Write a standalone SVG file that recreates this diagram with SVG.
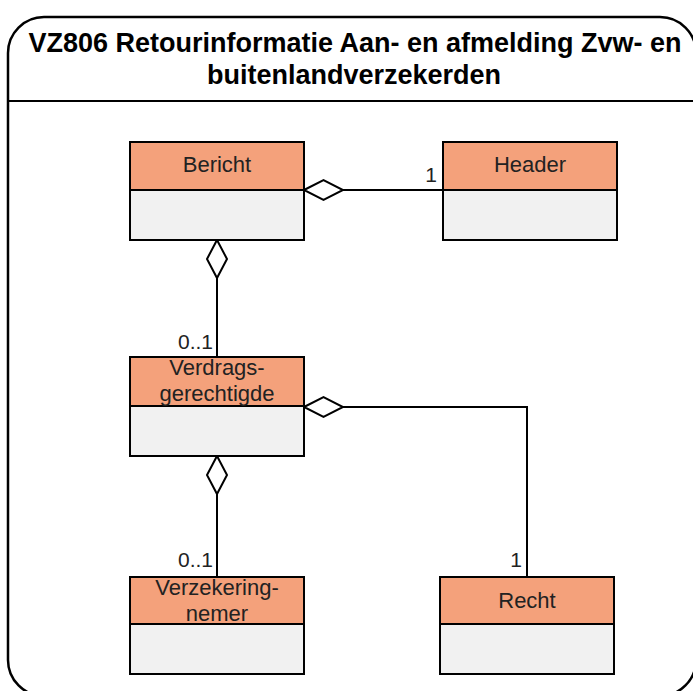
<svg xmlns="http://www.w3.org/2000/svg" width="693" height="691" viewBox="0 0 693 691">
<style>
.frame{fill:#fff;stroke:#000;stroke-width:2.5}
.hd{fill:#F4A17B;stroke:#000;stroke-width:2}
.bd{fill:#F1F1F1;stroke:#000;stroke-width:2}
.t{font-family:"Liberation Sans",Arial,sans-serif;font-size:22px;fill:#222;text-anchor:middle}
.lbl{font-family:"Liberation Sans",Arial,sans-serif;font-size:21px;fill:#222;text-anchor:end}
.title{font-family:"Liberation Sans",Arial,sans-serif;font-size:27px;font-weight:bold;fill:#000;text-anchor:middle}
.ln{fill:none;stroke:#000;stroke-width:2}
.dia{fill:#fff;stroke:#000;stroke-width:2;stroke-linejoin:miter}
</style>
<rect width="693" height="691" fill="#fff"/>
<g id="frame">
<rect class="frame" x="8" y="17" width="688" height="679" rx="36" ry="36"/>
<line class="ln" x1="8" y1="101" x2="696" y2="101" stroke-width="2.5"/>
<text class="title" x="355" y="52">VZ806 Retourinformatie Aan- en afmelding Zvw- en</text>
<text class="title" x="354" y="84">buitenlandverzekerden</text>
</g>
<g id="connectors">
<line class="ln" x1="343" y1="190" x2="443" y2="190"/>
<polygon class="dia" points="304,190 323.5,180 343,190 323.5,200"/>
<line class="ln" x1="217" y1="278" x2="217" y2="357"/>
<polygon class="dia" points="217,240 227,259 217,278 207,259"/>
<polyline class="ln" points="343,407 527,407 527,577"/>
<polygon class="dia" points="304,407 323.5,397 343,407 323.5,417"/>
<line class="ln" x1="217" y1="494" x2="217" y2="577"/>
<polygon class="dia" points="217,456 227,475 217,494 207,475"/>
<text class="lbl" x="437" y="182">1</text>
<text class="lbl" x="213" y="349">0..1</text>
<text class="lbl" x="213" y="567">0..1</text>
<text class="lbl" x="522" y="567">1</text>
</g>
<g id="Bericht">
<rect class="bd" x="130" y="190" width="174" height="50"/>
<rect class="hd" x="130" y="142" width="174" height="48"/>
<text class="t" x="217" y="172">Bericht</text>
</g>
<g id="Header">
<rect class="bd" x="443" y="190" width="174" height="50"/>
<rect class="hd" x="443" y="142" width="174" height="48"/>
<text class="t" x="530" y="172">Header</text>
</g>
<g id="Verdragsgerechtigde">
<rect class="bd" x="130" y="406" width="174" height="50"/>
<rect class="hd" x="130" y="357" width="174" height="49"/>
<text class="t" x="217" y="375">Verdrags-</text>
<text class="t" x="217" y="401">gerechtigde</text>
</g>
<g id="Verzekeringnemer">
<rect class="bd" x="130" y="624" width="174" height="50"/>
<rect class="hd" x="130" y="577" width="174" height="47"/>
<text class="t" x="217" y="595">Verzekering-</text>
<text class="t" x="217" y="621">nemer</text>
</g>
<g id="Recht">
<rect class="bd" x="440" y="624" width="174" height="50"/>
<rect class="hd" x="440" y="577" width="174" height="47"/>
<text class="t" x="527" y="608">Recht</text>
</g>
</svg>
